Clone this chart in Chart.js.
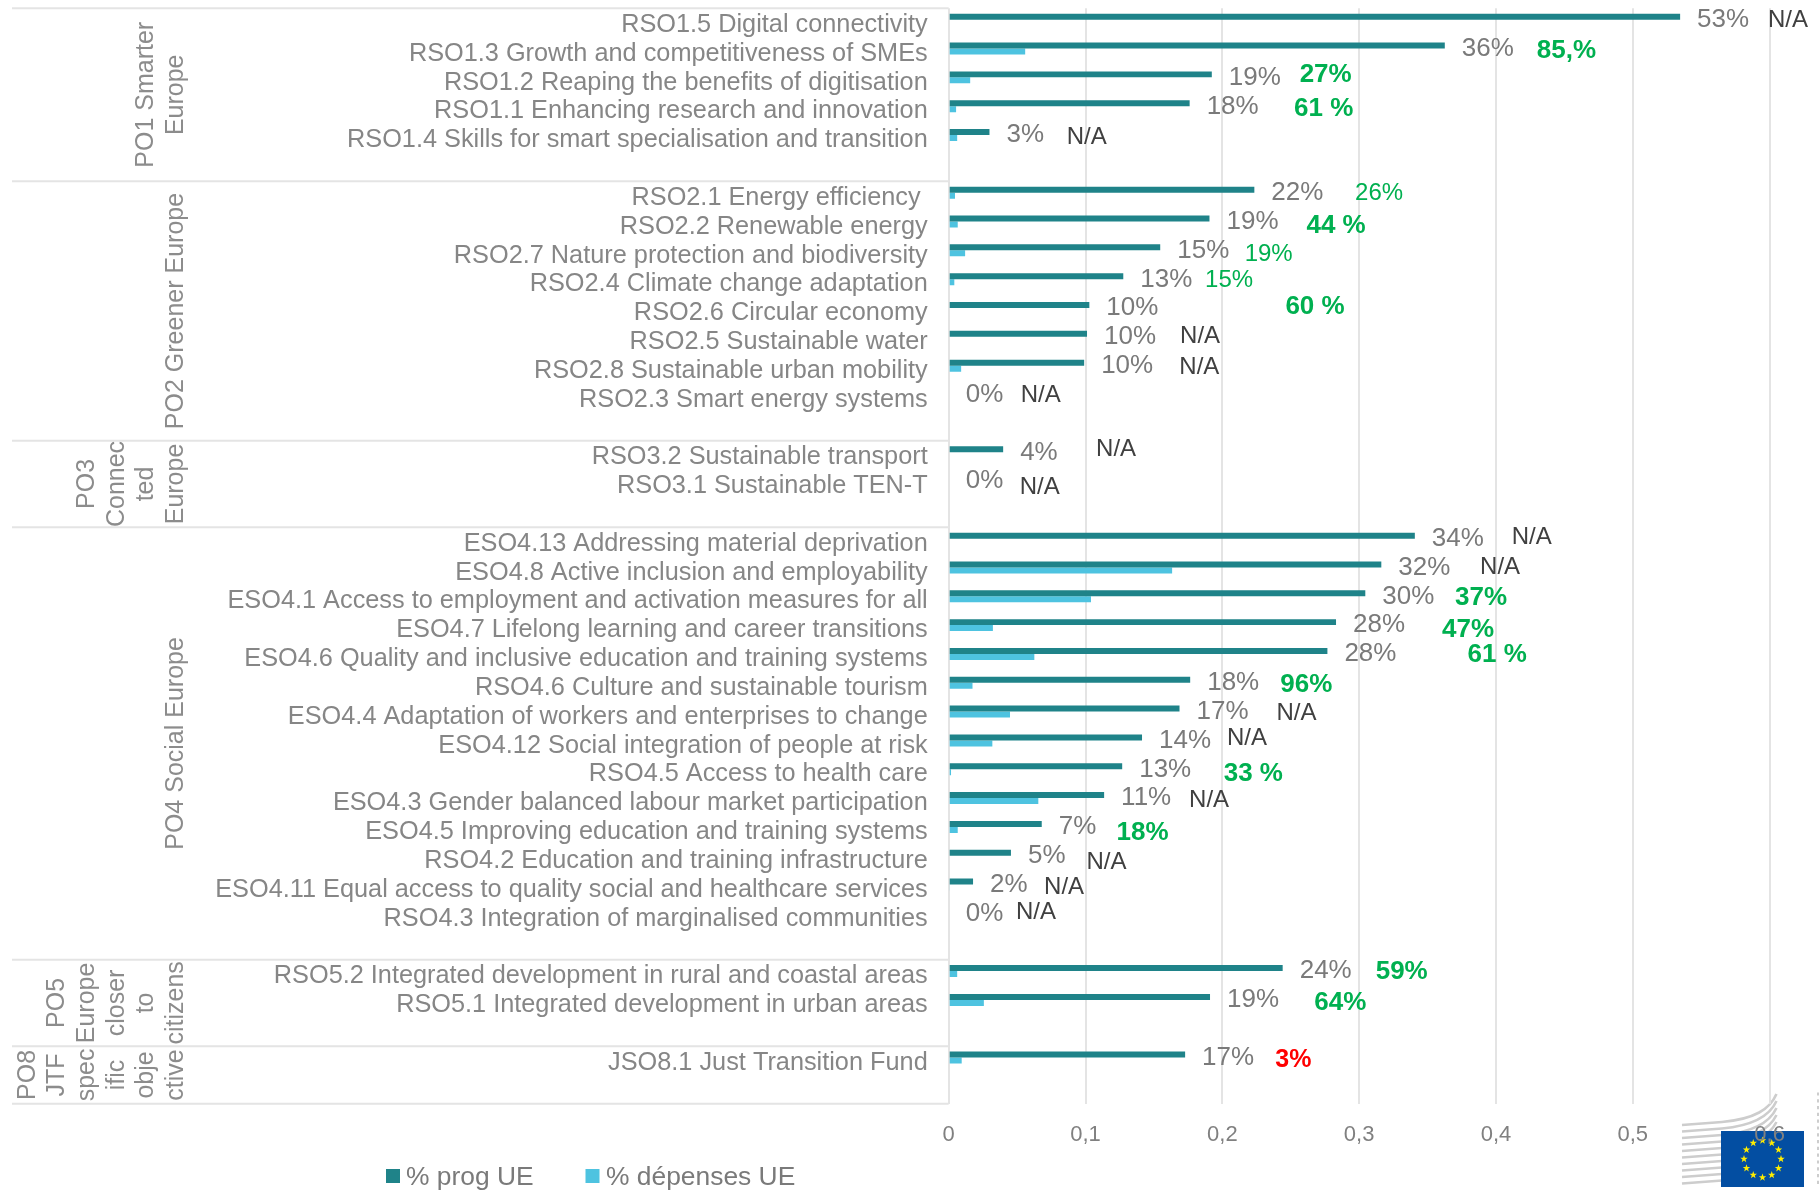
<!DOCTYPE html>
<html>
<head>
<meta charset="utf-8">
<title>RSO</title>
<script src="https://cdn.jsdelivr.net/npm/chart.js@4"></script>
<style>
  html, body { margin: 0; padding: 0; background: #fff; }
  #wrap { width: 1819px; height: 1191px; }
</style>
</head>
<body>
<div id="wrap"><canvas id="chartRso" width="1819" height="1191"></canvas></div>
<script>
// categories, top to bottom ('' = empty row between the groups)
var categories = [
  'RSO1.5 Digital connectivity', 'RSO1.3 Growth and competitiveness of SMEs', 'RSO1.2 Reaping the benefits of digitisation',
  'RSO1.1 Enhancing research and innovation', 'RSO1.4 Skills for smart specialisation and transition', '',
  'RSO2.1 Energy efficiency ', 'RSO2.2 Renewable energy', 'RSO2.7 Nature protection and biodiversity', 'RSO2.4 Climate change adaptation',
  'RSO2.6 Circular economy', 'RSO2.5 Sustainable water', 'RSO2.8 Sustainable urban mobility', 'RSO2.3 Smart energy systems', '',
  'RSO3.2 Sustainable transport', 'RSO3.1 Sustainable TEN-T', '',
  'ESO4.13 Addressing material deprivation', 'ESO4.8 Active inclusion and employability', 'ESO4.1 Access to employment and activation measures for all',
  'ESO4.7 Lifelong learning and career transitions', 'ESO4.6 Quality and inclusive education and training systems', 'RSO4.6 Culture and sustainable tourism',
  'ESO4.4 Adaptation of workers and enterprises to change', 'ESO4.12 Social integration of people at risk', 'RSO4.5 Access to health care',
  'ESO4.3 Gender balanced labour market participation', 'ESO4.5 Improving education and training systems', 'RSO4.2 Education and training infrastructure',
  'ESO4.11 Equal access to quality social and healthcare services', 'RSO4.3 Integration of marginalised communities', '',
  'RSO5.2 Integrated development in rural and coastal areas', 'RSO5.1 Integrated development in urban areas', '',
  'JSO8.1 Just Transition Fund', ''
];

var progUE = [
  .5346, .3626, .1923, .1761, .0298, null,
  .2234, .1906, .1546, .1276, .1028, .1011, .0990, 0, null,
  .0398, 0, null,
  .3407, .3162, .3045, .2831, .2768, .1765, .1687, .1413, .1268, .1136, .068, .0455, .0178, 0, null,
  .2441, .191, null,
  .1728, null
];

var depensesUE = [
  0, .0559, .0157, .0054, .0062, null,
  .0046, .0066, .012, .0041, 0, 0, .0091, 0, null,
  0, 0, null,
  0, .1633, .104, .0323, .0626, .0174, .0448, .0319, .0017, .0655, .0066, 0, .0008, 0, null,
  .0062, .0257, null,
  .0095, null
];

// third series of the cluster is empty in the source, it only takes room
var reserve = categories.map(function () { return null; });

var notes = [
  'N/A', '85,%', '27%', '61 %', 'N/A', null,
  '26%', '44 %', '19%', '15%', '60 %', 'N/A', 'N/A', 'N/A', null,
  'N/A', 'N/A', null,
  'N/A', 'N/A', '37%', '47%', '61 %', '96%', 'N/A', 'N/A', '33 %', 'N/A', '18%', 'N/A', 'N/A', 'N/A', null,
  '59%', '64%', null,
  '3%', null
];

// where the hand placed notes start, in axis units
var noteAt = [
  .5988, .4298, .2565, .2524, .0862, null,
  .297, .2615, .2163, .1874, .2461, .1691, .1686, .0526, null,
  .1077, .0519, null,
  .4115, .3884, .3701, .3606, .3792, .2424, .2395, .2034, .201, .1757, .1227, .1007, .0697, .0492, null,
  .3121, .2672, null,
  .2387, null
];

var noteDy = [
  -4.4, -2.5, -8, -2.5, -3, 0,
  -4.7, -.5, -.7, -4.5, -6, -5.8, -3, -4.2, 0,
  -7.5, 1, 0,
  -6, -4.8, -3.3, 0, -4.7, -2.8, -3.9, -6.8, -.6, -2.8, .7, 1.2, -2.3, -6.4, 0,
  -4.1, -2, 0,
  -2.3, 0
];

// first row, last row, wrapped lines (line nearest the axis is last)
var groups = [
  { from: 0, to: 5, lines: ['PO1 Smarter', 'Europe'] },
  { from: 6, to: 14, lines: ['PO2 Greener Europe'] },
  { from: 15, to: 17, lines: ['PO3', 'Connec', 'ted', 'Europe'] },
  { from: 18, to: 32, lines: ['PO4 Social Europe'] },
  { from: 33, to: 35, lines: ['PO5', 'Europe', 'closer', 'to', 'citizens'] },
  { from: 36, to: 37, lines: ['PO8', 'JTF', 'spec', 'ific', 'obje', 'ctive'] }
];

var xTicks = ['0', '0,1', '0,2', '0,3', '0,4', '0,5', '0,6'];

var FONT = '"Liberation Sans", Arial, sans-serif';
var DARK = '#1F8389', LIGHT = '#4EC3E0', GRID = '#E4E4E4';
var GREEN = '#00B050', GREY = '#7A7A7A', NA = '#404040';
var TEXT_DOWN = 2.2; // canvas middle baseline sits a bit high compared to the source

function noteStyle(i) {
  var t = notes[i];
  if (t === 'N/A') return { font: '24px ' + FONT, color: NA };
  if (t === '3%') return { font: 'bold 25px ' + FONT, color: '#FF0000' };
  if (t === '26%' || t === '19%' || t === '15%') return { font: '24px ' + FONT, color: GREEN };
  return { font: 'bold 26px ' + FONT, color: GREEN };
}

// logo of the commission, bottom right, under the axis labels
function drawLogo(ctx) {
  ctx.save();
  ctx.strokeStyle = '#CDCDCD';
  ctx.lineWidth = 2.6;
  for (var k = 0; k < 10; k++) {
    var y = 1125 + k * 6.5;
    ctx.beginPath();
    ctx.moveTo(1682, y);
    ctx.lineTo(1722, y - 3);
    if (k < 6) {
      ctx.bezierCurveTo(1755, y - 6, 1770, y - 16, 1776.5, 1094 + k * 7);
    }
    ctx.stroke();
  }
  ctx.lineWidth = 3.2;
  for (var j = 0; j < 14; j++) {
    ctx.beginPath();
    ctx.moveTo(1817, 1094 + j * 6.8);
    ctx.lineTo(1819, 1094 + j * 6.8);
    ctx.stroke();
  }
  ctx.fillStyle = '#034EA2';
  ctx.fillRect(1721, 1131, 83, 56);
  ctx.fillStyle = '#FFED00';
  for (var s = 0; s < 12; s++) {
    var a = s * Math.PI / 6;
    var cx = 1762.5 + 18.5 * Math.cos(a), cy = 1159 + 18.5 * Math.sin(a);
    ctx.beginPath();
    for (var p = 0; p < 10; p++) {
      var r = p % 2 ? 1.6 : 3.9, b = -Math.PI / 2 + p * Math.PI / 5;
      ctx.lineTo(cx + r * Math.cos(b), cy + r * Math.sin(b));
    }
    ctx.closePath();
    ctx.fill();
  }
  ctx.restore();
}

var decor = {
  id: 'decor',
  beforeDraw: function (chart) { drawLogo(chart.ctx); },
  afterDraw: function (chart) {
    var ctx = chart.ctx, xs = chart.scales.x, ys = chart.scales.y;
    var pitch = ys.getPixelForValue(1) - ys.getPixelForValue(0);
    ctx.save();

    // separators + group titles
    ctx.strokeStyle = GRID;
    ctx.lineWidth = 2;
    groups.forEach(function (g, n) {
      var top = ys.getPixelForValue(g.from) - pitch / 2;
      var bottom = ys.getPixelForValue(g.to) + pitch / 2;
      ctx.beginPath();
      ctx.moveTo(12, top);
      ctx.lineTo(xs.left, top);
      if (n === groups.length - 1) {
        ctx.moveTo(12, bottom);
        ctx.lineTo(xs.left, bottom);
      }
      ctx.stroke();

      ctx.save();
      ctx.translate(176, (top + bottom) / 2);
      ctx.rotate(-Math.PI / 2);
      ctx.font = '25px ' + FONT;
      ctx.fillStyle = '#8C8C8C';
      ctx.textAlign = 'center';
      ctx.textBaseline = 'middle';
      g.lines.forEach(function (line, k) {
        ctx.fillText(line, 0, (k - g.lines.length + 1) * 29.6);
      });
      ctx.restore();
    });

    // values and notes next to the bars
    ctx.textBaseline = 'middle';
    ctx.textAlign = 'left';
    var bars = chart.getDatasetMeta(0).data;
    progUE.forEach(function (v, i) {
      if (v === null) return;
      ctx.font = '26px ' + FONT;
      ctx.fillStyle = GREY;
      ctx.fillText(Math.round(v * 100) + '%', xs.getPixelForValue(v) + 17, bars[i].y + 1 + TEXT_DOWN);
    });
    notes.forEach(function (t, i) {
      if (t === null) return;
      var st = noteStyle(i);
      ctx.font = st.font;
      ctx.fillStyle = st.color;
      ctx.fillText(t, xs.getPixelForValue(noteAt[i]), ys.getPixelForValue(i) + noteDy[i] + TEXT_DOWN);
    });

    // legend
    ctx.font = '26.4px ' + FONT;
    [[386, 406], [585.5, 606]].forEach(function (pos, i) {
      var ds = chart.data.datasets[i];
      ctx.fillStyle = ds.backgroundColor;
      ctx.fillRect(pos[0], 1169, 14, 14);
      ctx.fillStyle = GREY;
      ctx.fillText(ds.label, pos[1], 1178);
    });
    ctx.restore();
  }
};

var myChart = new Chart(document.getElementById('chartRso').getContext('2d'), {
  type: 'bar',
  data: {
    labels: categories,
    datasets: [
      { label: '% prog UE', data: progUE, backgroundColor: DARK },
      { label: '% dépenses UE', data: depensesUE, backgroundColor: LIGHT },
      { label: '', data: reserve, backgroundColor: 'rgba(0,0,0,0)' }
    ]
  },
  plugins: [decor],
  options: {
    indexAxis: 'y',
    responsive: false,
    animation: false,
    categoryPercentage: 0.624,
    barPercentage: 1,
    layout: { padding: { top: 8.3, right: 49.4, bottom: 0, left: 0 } },
    plugins: { legend: { display: false }, tooltip: { enabled: false } },
    scales: {
      x: {
        min: 0,
        max: 0.6,
        afterFit: function (scale) { scale.height = 87.2; },
        afterBuildTicks: function (scale) {
          scale.ticks = xTicks.map(function (t, i) { return { value: i / 10 }; });
        },
        border: { display: false },
        grid: { color: GRID, lineWidth: 2, drawTicks: false },
        ticks: {
          padding: 18,
          maxRotation: 0,
          autoSkip: false,
          color: '#808080',
          font: { family: FONT, size: 22 },
          callback: function (v, i) { return xTicks[i]; }
        }
      },
      y: {
        afterFit: function (scale) {
          scale.width = 948.7;
          // no extra room for the first/last label, the plot starts right at the top rule
          scale.paddingTop = 0;
          scale.paddingBottom = 0;
        },
        border: { display: false },
        grid: { display: false, drawTicks: false },
        ticks: {
          padding: 21,
          labelOffset: TEXT_DOWN,
          autoSkip: false,
          color: '#868686',
          font: { family: FONT, size: 25.3 }
        }
      }
    }
  }
});
</script>
</body>
</html>
